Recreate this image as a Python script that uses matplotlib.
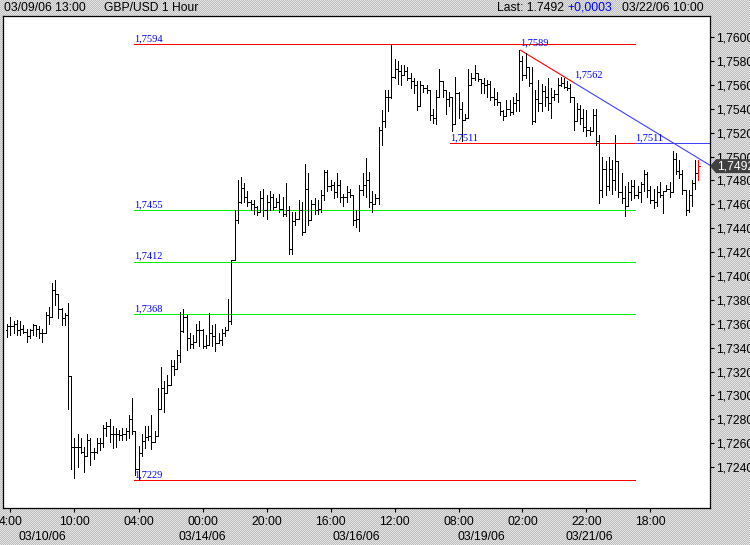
import matplotlib
matplotlib.use('Agg')
import matplotlib.pyplot as plt
import matplotlib.transforms as mtransforms
from matplotlib.patches import Polygon
import numpy as np

# ---------------- data (GBP/USD hourly, 03/09/06 13:00 .. 03/22/06 10:00) -------------
highs = [
1.7360,1.7366,1.7362,1.7363,1.7362,1.7359,1.7356,1.7356,1.7360,1.7359,
1.7358,1.7356,1.7370,1.7374,1.7394,1.7397,1.7374,1.7373,1.7369,1.7377,
1.7316,1.7264,1.7268,1.7264,1.7257,1.7268,1.7264,1.7256,1.7264,1.7264,
1.7275,1.7278,1.7280,1.7274,1.7273,1.7271,1.7273,1.7273,1.7284,1.7298,
1.7266,1.7258,1.7268,1.7274,1.7274,1.7284,1.7270,1.7306,1.7324,1.7312,
1.7317,1.7330,1.7330,1.7338,1.7370,1.7372,1.7367,1.7352,1.7351,1.7360,
1.7362,1.7356,1.7351,1.7369,1.7359,1.7360,1.7352,1.7356,1.7357,1.7381,
1.7413,1.7455,1.7480,1.7483,1.7478,1.7471,1.7464,1.7464,1.7459,1.7471,
1.7473,1.7468,1.7471,1.7469,1.7465,1.7469,1.7466,1.7478,1.7459,1.7454,
1.7454,1.7464,1.7462,1.7494,1.7486,1.7464,1.7465,1.7464,1.7472,1.7489,
1.7489,1.7480,1.7479,1.7486,1.7480,1.7469,1.7475,1.7473,1.7464,1.7455,
1.7476,1.7486,1.7499,1.7487,1.7471,1.7469,1.7525,1.7539,1.7556,1.7556,
1.7594,1.7582,1.7580,1.7577,1.7577,1.7575,1.7570,1.7566,1.7563,1.7563,
1.7559,1.7560,1.7556,1.7540,1.7556,1.7573,1.7563,1.7556,1.7554,1.7549,
1.7567,1.7554,1.7546,1.7536,1.7573,1.7570,1.7577,1.7570,1.7565,1.7566,
1.7564,1.7563,1.7557,1.7554,1.7546,1.7539,1.7547,1.7547,1.7550,1.7553,
1.7589,1.7584,1.7587,1.7575,1.7575,1.7556,1.7564,1.7561,1.7559,1.7566,
1.7557,1.7556,1.7566,1.7567,1.7566,1.7563,1.7561,1.7550,1.7545,1.7543,
1.7540,1.7539,1.7525,1.7540,1.7540,1.7518,1.7500,1.7496,1.7500,1.7497,
1.7518,1.7496,1.7486,1.7475,1.7479,1.7480,1.7480,1.7475,1.7479,1.7489,
1.7487,1.7475,1.7473,1.7475,1.7479,1.7471,1.7476,1.7479,1.7505,1.7503,
1.7497,1.7489,1.7472,1.7472,1.7480,1.7497,1.7497]
lows = [
1.7349,1.7351,1.7352,1.7351,1.7351,1.7352,1.7345,1.7348,1.7351,1.7350,
1.7348,1.7345,1.7352,1.7360,1.7366,1.7376,1.7365,1.7359,1.7359,1.7289,
1.7238,1.7231,1.7240,1.7252,1.7236,1.7249,1.7242,1.7247,1.7252,1.7254,
1.7257,1.7266,1.7261,1.7256,1.7257,1.7263,1.7263,1.7263,1.7264,1.7268,
1.7233,1.7229,1.7249,1.7256,1.7263,1.7255,1.7261,1.7266,1.7289,1.7286,
1.7302,1.7309,1.7317,1.7322,1.7328,1.7353,1.7338,1.7340,1.7340,1.7345,
1.7341,1.7340,1.7340,1.7342,1.7341,1.7337,1.7344,1.7342,1.7350,1.7355,
1.7360,1.7413,1.7444,1.7461,1.7462,1.7459,1.7455,1.7452,1.7451,1.7454,
1.7450,1.7448,1.7455,1.7455,1.7458,1.7454,1.7450,1.7450,1.7418,1.7418,
1.7443,1.7448,1.7434,1.7437,1.7443,1.7447,1.7452,1.7452,1.7454,1.7464,
1.7471,1.7472,1.7465,1.7466,1.7462,1.7459,1.7462,1.7466,1.7443,1.7441,
1.7438,1.7468,1.7466,1.7458,1.7454,1.7460,1.7460,1.7510,1.7525,1.7538,
1.7549,1.7566,1.7561,1.7560,1.7568,1.7564,1.7557,1.7553,1.7539,1.7542,
1.7554,1.7553,1.7531,1.7528,1.7527,1.7550,1.7550,1.7536,1.7542,1.7521,
1.7527,1.7532,1.7513,1.7531,1.7532,1.7560,1.7564,1.7563,1.7553,1.7553,
1.7550,1.7547,1.7543,1.7543,1.7535,1.7531,1.7534,1.7535,1.7536,1.7538,
1.7538,1.7564,1.7566,1.7559,1.7527,1.7529,1.7538,1.7538,1.7542,1.7539,
1.7532,1.7547,1.7546,1.7559,1.7557,1.7556,1.7546,1.7522,1.7530,1.7527,
1.7521,1.7517,1.7518,1.7521,1.7510,1.7461,1.7466,1.7468,1.7472,1.7469,
1.7472,1.7466,1.7461,1.7450,1.7459,1.7464,1.7465,1.7465,1.7462,1.7471,
1.7466,1.7461,1.7457,1.7459,1.7466,1.7453,1.7471,1.7466,1.7470,1.7485,
1.7482,1.7469,1.7451,1.7454,1.7459,1.7473,1.7480]
closes = [
1.7358,1.7358,1.7360,1.7355,1.7356,1.7353,1.7350,1.7355,1.7359,1.7356,
1.7352,1.7352,1.7367,1.7366,1.7388,1.7385,1.7372,1.7365,1.7367,1.7316,
1.7257,1.7257,1.7257,1.7253,1.7249,1.7263,1.7253,1.7253,1.7260,1.7260,
1.7273,1.7274,1.7268,1.7268,1.7268,1.7267,1.7268,1.7270,1.7280,1.7270,
1.7238,1.7252,1.7262,1.7265,1.7266,1.7261,1.7266,1.7289,1.7306,1.7302,
1.7309,1.7325,1.7322,1.7334,1.7354,1.7366,1.7348,1.7343,1.7345,1.7355,
1.7355,1.7341,1.7342,1.7352,1.7350,1.7344,1.7346,1.7352,1.7355,1.7362,
1.7413,1.7447,1.7462,1.7474,1.7466,1.7462,1.7460,1.7458,1.7454,1.7465,
1.7455,1.7462,1.7466,1.7458,1.7462,1.7456,1.7452,1.7455,1.7423,1.7446,
1.7448,1.7455,1.7437,1.7473,1.7447,1.7460,1.7455,1.7456,1.7468,1.7487,
1.7475,1.7476,1.7470,1.7476,1.7466,1.7466,1.7470,1.7468,1.7447,1.7448,
1.7472,1.7476,1.7480,1.7462,1.7460,1.7465,1.7522,1.7530,1.7550,1.7550,
1.7567,1.7573,1.7572,1.7568,1.7572,1.7566,1.7563,1.7560,1.7542,1.7560,
1.7557,1.7556,1.7535,1.7532,1.7550,1.7563,1.7556,1.7548,1.7550,1.7527,
1.7553,1.7540,1.7531,1.7532,1.7560,1.7566,1.7570,1.7565,1.7562,1.7560,
1.7561,1.7550,1.7548,1.7546,1.7538,1.7534,1.7540,1.7537,1.7545,1.7547,
1.7580,1.7568,1.7575,1.7562,1.7530,1.7548,1.7545,1.7555,1.7550,1.7545,
1.7550,1.7552,1.7560,1.7562,1.7558,1.7557,1.7550,1.7530,1.7540,1.7532,
1.7525,1.7522,1.7521,1.7535,1.7513,1.7472,1.7490,1.7475,1.7490,1.7480,
1.7496,1.7470,1.7465,1.7459,1.7470,1.7475,1.7468,1.7470,1.7477,1.7485,
1.7472,1.7464,1.7462,1.7470,1.7468,1.7471,1.7473,1.7470,1.7498,1.7488,
1.7485,1.7472,1.7455,1.7468,1.7478,1.7486,1.7492]
first_open = 1.7355

time_tick_idx = [1, 21, 41, 61, 81, 101, 121, 141, 161, 181, 201]
time_tick_labels = ['4:00', '10:00', '04:00', '00:00', '20:00', '16:00',
                    '12:00', '08:00', '02:00', '22:00', '18:00']
date_idx = [11, 61, 109, 148, 182]
date_labels = ['03/10/06', '03/14/06', '03/16/06', '03/19/06', '03/21/06']

price_ticks = [1.7240, 1.7260, 1.7280, 1.7300, 1.7320, 1.7340, 1.7360, 1.7380,
               1.7400, 1.7420, 1.7440, 1.7460, 1.7480, 1.7500, 1.7520, 1.7540,
               1.7560, 1.7580, 1.7600]

level_values = [1.7594, 1.7455, 1.7412, 1.7368, 1.7229]
level_labels = ['1,7594', '1,7455', '1,7412', '1,7368', '1,7229']
level_colors = ['#ff0000', '#00ee00', '#00ee00', '#00ee00', '#ff0000']
level_start, level_end = 39.6, 196.2

support_value = 1.7511
support_label = '1,7511'
support_start, support_split = 138.3, 196.2

trend_idx = [160.4, 177.0]
trend_vals = [1.7589, 1.7562]
trend_labels = ['1,7589', '1,7562']

last_price = 1.7492
last_label = '1,7492'

# ---------------- figure -------------------------------------------------------------
W, H = 750, 545
fig = plt.figure(figsize=(W / 100, H / 100), dpi=100)

# stippled grey background
yy, xx = np.mgrid[0:H, 0:W]
chk = ((xx + yy) % 2).astype(float)
c1 = np.array([0.74, 0.74, 0.74]); c2 = np.array([0.90, 0.90, 0.90])
bg = c1[None, None, :] * chk[..., None] + c2[None, None, :] * (1 - chk[..., None])
fig.figimage(bg, xo=0, yo=0, origin='upper', zorder=0)

L, R, T, B = 3, 710, 16, 508
ax = fig.add_axes([L / W, (H - B) / H, (R - L) / W, (B - T) / H])
ax.set_facecolor('white')
ax.set_zorder(1)

x0_px, dx_px = 7.3, 3.2
ax.set_xlim((L - x0_px) / dx_px, (R - x0_px) / dx_px)
ppu = 11943.0
ax.set_ylim(1.7594 - (B - 44.3) / ppu, 1.7594 + (44.3 - T) / ppu)

PX = 0.72  # one pixel in points
n = len(closes)
idx = np.arange(n)
hi = np.array(highs); lo = np.array(lows); cl = np.array(closes)
op = np.concatenate([[first_open], cl[:-1]])
cols = ['black'] * (n - 1) + ['#ff0000']
ax.vlines(idx, np.minimum(lo, op), np.maximum(hi, op), colors=cols, lw=PX,
          antialiased=False, zorder=3)
ax.hlines(op, idx - 0.55, idx, colors=cols, lw=PX, antialiased=False, zorder=3)
ax.hlines(cl, idx, idx + 0.55, colors=cols, lw=PX, antialiased=False, zorder=3)

# horizontal levels
serif = 'Liberation Serif'
lab_off = mtransforms.offset_copy(ax.transData, fig=fig, x=0, y=1, units='dots')
for v, lbl, c in zip(level_values, level_labels, level_colors):
    ax.plot([level_start, level_end], [v, v], color=c, lw=PX, antialiased=False, zorder=2)
    ax.text(level_start, v, lbl, color='#0000ff', fontsize=7.5, family=serif,
            ha='left', va='bottom', transform=lab_off, zorder=4)

ax.plot([support_start, support_split], [support_value] * 2, color='#ff0000', lw=PX,
        antialiased=False, zorder=2)
ax.plot([support_split, ax.get_xlim()[1]], [support_value] * 2, color='#4040ff', lw=PX,
        antialiased=False, zorder=2)
for xs in (support_start, support_split):
    ax.text(xs, support_value, support_label, color='#0000ff', fontsize=7.5, family=serif,
            ha='left', va='bottom', transform=lab_off, zorder=4)

# trend line
slope = (trend_vals[1] - trend_vals[0]) / (trend_idx[1] - trend_idx[0])
xr = ax.get_xlim()[1]
ax.plot(trend_idx, trend_vals, color='#ff0000', lw=0.8, zorder=2)
ax.plot([trend_idx[1], xr], [trend_vals[1], trend_vals[1] + slope * (xr - trend_idx[1])],
        color='#4040ff', lw=0.8, zorder=2)
lab_off2 = mtransforms.offset_copy(ax.transData, fig=fig, x=0, y=3, units='dots')
for xi, v, lbl in zip(trend_idx, trend_vals, trend_labels):
    ax.text(xi, v, lbl, color='#0000ff', fontsize=7.5, family=serif,
            ha='left', va='bottom', transform=lab_off2, zorder=4)

# axes styling
for s in ax.spines.values():
    s.set_linewidth(0.9); s.set_color('black')
sans = 'Liberation Sans'
ax.yaxis.tick_right()
ax.set_yticks(price_ticks)
ax.set_yticklabels([f'{v:.4f}'.replace('.', ',') for v in price_ticks],
                   fontsize=8.7, family=sans)
ax.tick_params(axis='y', direction='out', length=3, width=0.8, pad=1.5, colors='black')
ax.set_xticks(time_tick_idx)
ax.set_xticklabels(time_tick_labels, fontsize=8.7, family=sans)
ax.tick_params(axis='x', direction='out', length=3, width=0.8, pad=2.5)

date_tr = mtransforms.offset_copy(
    mtransforms.blended_transform_factory(ax.transData, ax.transAxes),
    fig=fig, x=0, y=-29, units='dots')
for xi, lbl in zip(date_idx, date_labels):
    ax.text(xi, 0, lbl, transform=date_tr, ha='center', va='center',
            fontsize=8.7, family=sans, clip_on=False)

# header
ty = 1 - 8 / H
fig.text(4 / W, ty, '03/09/06 13:00', fontsize=8.7, family=sans, va='center')
fig.text(104 / W, ty, 'GBP/USD 1 Hour', fontsize=8.7, family=sans, va='center')
fig.text(497 / W, ty, 'Last: 1.7492', fontsize=8.7, family=sans, va='center')
fig.text(567 / W, ty, '+0,0003', fontsize=8.7, family=sans, va='center', color='#0000ff')
fig.text(622 / W, ty, '03/22/06 10:00', fontsize=8.7, family=sans, va='center')

# last-price marker
fig.canvas.draw()
ypix = ax.transData.transform((0, last_price))[1]
poly = Polygon([(R, ypix), (R + 6, ypix + 7), (W, ypix + 7), (W, ypix - 7), (R + 6, ypix - 7)],
               closed=True, facecolor='#404040', edgecolor='none',
               transform=mtransforms.IdentityTransform(), zorder=5)
fig.add_artist(poly)
fig.text((R + 7) / W, ypix / H, last_label, color='white', fontsize=8.7, family=sans,
         va='center', ha='left', zorder=6)

fig.savefig('out.png', dpi=100)
